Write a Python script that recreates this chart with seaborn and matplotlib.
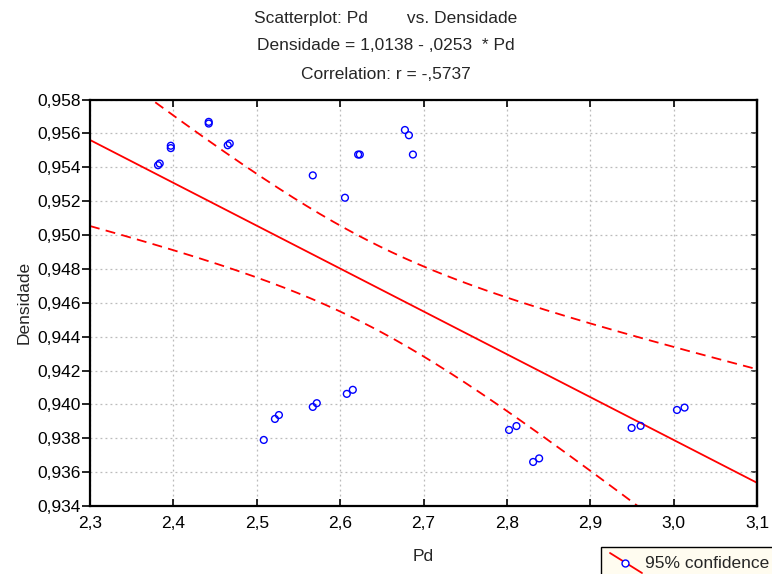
import numpy as np
import pandas as pd
import matplotlib
matplotlib.use("Agg")
import matplotlib.pyplot as plt
import seaborn as sns
from matplotlib.lines import Line2D
from matplotlib.patches import Rectangle
from matplotlib.ticker import FuncFormatter

# Observations: Pd vs. Densidade
pd_vals = [2.3816, 2.3836, 2.3969, 2.3969, 2.4424, 2.4424, 2.4652, 2.4676,
           2.5672, 2.6058, 2.6216, 2.6236, 2.6777, 2.6825, 2.6873,
           2.5084, 2.5218, 2.5266, 2.5672, 2.5720, 2.6080, 2.6152,
           2.8026, 2.8115, 2.8315, 2.8387, 2.9496, 2.9604, 3.0040, 3.0131]
dens_vals = [0.95412, 0.95422, 0.95513, 0.95527, 0.95658, 0.95668, 0.95530, 0.95540,
             0.95352, 0.95220, 0.95475, 0.95475, 0.95620, 0.95589, 0.95475,
             0.93790, 0.93914, 0.93937, 0.93985, 0.94007, 0.94062, 0.94086,
             0.93849, 0.93872, 0.93660, 0.93681, 0.93861, 0.93873, 0.93967, 0.93981]

# Fitted model as reported
intercept = 1.0138
slope = -0.0253
r_value = -0.5737
t_975 = 2.048  # Student t quantile, 28 degrees of freedom

x_ticks = [2.3, 2.4, 2.5, 2.6, 2.7, 2.8, 2.9, 3.0, 3.1]
y_ticks = [0.934, 0.936, 0.938, 0.940, 0.942, 0.944, 0.946, 0.948,
           0.950, 0.952, 0.954, 0.956, 0.958]

FS = 12.5

sns.set_style("white")
plt.rcParams["font.family"] = ["Liberation Sans", "DejaVu Sans"]
plt.rcParams["font.size"] = FS

fig = plt.figure(figsize=(7.72, 5.74), dpi=100)
ax = fig.add_axes([90 / 772, 1 - 506 / 574, 667 / 772, 406.5 / 574])

df = pd.DataFrame({"Pd": pd_vals, "Densidade": dens_vals})

# Regression line and 95% confidence band for the mean
x = np.asarray(pd_vals)
y = np.asarray(dens_vals)
n = len(x)
resid = y - (intercept + slope * x)
s = np.sqrt((resid ** 2).sum() / (n - 2))
xbar = x.mean()
sxx = ((x - xbar) ** 2).sum()
gx = np.linspace(x_ticks[0], x_ticks[-1], 300)
fit = intercept + slope * gx
half = t_975 * s * np.sqrt(1 / n + (gx - xbar) ** 2 / sxx)

sns.lineplot(x=gx, y=fit, color="#ff0000", linewidth=1.3, ax=ax)
for band in (fit + half, fit - half):
    sns.lineplot(x=gx, y=band, color="#ff0000", linewidth=1.3,
                 linestyle=(0, (5.5, 3.5)), ax=ax)

sns.scatterplot(data=df, x="Pd", y="Densidade", marker="o", s=24,
                facecolors="none", edgecolor="#0000ff", linewidth=1.0,
                ax=ax, zorder=3)

ax.set_xlim(x_ticks[0], x_ticks[-1])
ax.set_ylim(y_ticks[0], y_ticks[-1])
ax.set_xticks(x_ticks)
ax.set_yticks(y_ticks)
ax.xaxis.set_major_formatter(FuncFormatter(lambda v, p: f"{v:.1f}".replace(".", ",")))
ax.yaxis.set_major_formatter(FuncFormatter(lambda v, p: f"{v:.3f}".replace(".", ",")))

ax.grid(True, color="#bbbbbb", linewidth=0.9, linestyle=(0, (1.5, 2.5)))
for sp in ax.spines.values():
    sp.set_color("black")
    sp.set_linewidth(1.6)

ax.tick_params(axis="x", direction="in", length=5, width=1.2, top=True,
               bottom=True, pad=7, labelsize=FS, colors="black")
ax.tick_params(axis="y", direction="out", length=6, width=1.2, left=True,
               right=False, pad=0.8, labelsize=FS, colors="black")
ry = ax.secondary_yaxis("right")
ry.set_yticks(y_ticks)
ry.tick_params(direction="in", length=4, width=1.2, labelright=False)
ry.spines["right"].set_linewidth(1.6)

ax.set_xlabel("Pd", fontsize=FS)
ax.set_ylabel("Densidade", fontsize=FS)
ax.xaxis.set_label_coords(0.5, -0.105)
ax.yaxis.set_label_coords(-0.088, 0.5)

# Header lines
fig.text(0.5, 1 - 18 / 574, "Scatterplot: Pd        vs. Densidade",
         ha="center", va="center", fontsize=FS)
fig.text(0.5, 1 - 46 / 574,
         f"Densidade = {intercept:.4f} - {abs(slope):.4f}  * Pd".replace("1.", "1,").replace("0.", ","),
         ha="center", va="center", fontsize=FS)
fig.text(0.5, 1 - 74 / 574,
         f"Correlation: r = {r_value:.4f}".replace("-0.", "-,"),
         ha="center", va="center", fontsize=FS)

# Legend box at the lower right
fig.patches.append(Rectangle((601 / 772, -0.05), 0.3, 0.05 + 27 / 574,
                             transform=fig.transFigure, facecolor="#fffcf0",
                             edgecolor="black", linewidth=1.0))
fig.lines.append(Line2D([610 / 772, 642 / 772], [1 - 553 / 574, 1 - 573 / 574],
                        transform=fig.transFigure, color="#ff0000", linewidth=1.3))
fig.lines.append(Line2D([625 / 772], [1 - 563 / 574], transform=fig.transFigure,
                        marker="o", markersize=5, markerfacecolor="white",
                        markeredgecolor="#0000ff", markeredgewidth=1.0,
                        linestyle="none"))
fig.text(645 / 772, 1 - 563 / 574, "95% confidence", ha="left", va="center",
         fontsize=FS)

fig.savefig("out.png", dpi=100)
